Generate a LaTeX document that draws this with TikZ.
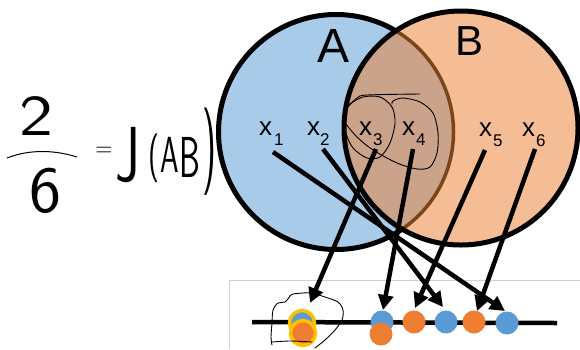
\documentclass[tikz,border=0pt]{standalone}
\usepackage{fontspec}
\setmainfont{Liberation Sans}
\usetikzlibrary{arrows.meta}
\definecolor{setA}{HTML}{A9CBEA}
\definecolor{setB}{HTML}{F5BD96}
\definecolor{setAB}{HTML}{CBA28A}
\definecolor{abline}{HTML}{7B4519}
\definecolor{dotblue}{HTML}{5B9BD5}
\definecolor{dotorange}{HTML}{ED7D31}
\definecolor{dotyellow}{HTML}{FFC000}
\definecolor{framegray}{HTML}{D0D0D0}
\newcommand\xsubl[2]{x\hspace{#2}\raisebox{-10pt}{\fontsize{17}{17}\selectfont #1}}
\begin{document}
\begin{tikzpicture}[x=1pt,y=-1pt,
  setborder/.style={line width=5pt},
  arr/.style={line width=4.5pt, -{Triangle[length=15pt,width=15pt]}},
  bdot/.style={circle, fill=dotblue, minimum size=23pt, inner sep=0pt},
  odot/.style={circle, fill=dotorange, minimum size=23pt, inner sep=0pt},
  ring/.style={draw=dotyellow, line width=3.5pt, minimum size=25pt},
  hand/.style={line width=0.9pt, line cap=round, line join=round},
  xlab/.style={anchor=base west, inner sep=0pt, font=\fontsize{26}{26}\selectfont},
  handtxt/.style={inner sep=0pt}
]
\useasboundingbox (0,0) rectangle (580,349);
% frame
\draw[framegray, line width=1pt] (229,349) -- (229,280) -- (580,280);
% sets
\coordinate (cA) at (336,132);
\coordinate (cB) at (461,128);
\filldraw[fill=setA, draw=black, setborder] (cA) circle (117.5);
\fill[setB] (cB) circle (117);
\begin{scope}
  \clip (cA) circle (117.5);
  \fill[setAB] (cB) circle (117);
\end{scope}
\begin{scope}
  \clip (cB) circle (117);
  \draw[abline, line width=3.5pt] (cA) circle (117.5);
\end{scope}
\draw[black, setborder] (cB) circle (117);
\node[anchor=base, inner sep=0pt, font=\fontsize{48}{48}\selectfont] (labA) at (334,62) {A};
\node[anchor=base, inner sep=0pt, font=\fontsize{42}{42}\selectfont] (labB) at (469,55) {B};
% element labels
\node[xlab] (x1) at (259,135) {\xsubl{1}{2pt}};
\node[xlab] (x2) at (307,135) {\xsubl{2}{0pt}};
\node[xlab] (x3) at (359,135) {\xsubl{3}{1pt}};
\node[xlab] (x4) at (402,135) {\xsubl{4}{1pt}};
\node[xlab] (x5) at (479,136) {\xsubl{5}{1pt}};
\node[xlab] (x6) at (522,136) {\xsubl{6}{1pt}};
\coordinate (s1) at (273,152);
\coordinate (s2) at (323,149);
\coordinate (s3) at (376,149);
\coordinate (s4) at (413,149);
\coordinate (s5) at (485,150);
\coordinate (s6) at (535,149);
% number line
\coordinate (nl) at (252,322);
\coordinate (nr) at (557,323);
\draw[line width=4.5pt] (nl) -- (nr);
% dots
\node[bdot, ring] (d3b) at (302,323) {};
\node[odot, ring] (d3o) at (303,333) {};
\node[bdot] (d4b) at (382,322) {};
\node[odot] (d4o) at (381,334) {};
\node[odot] (d5) at (414,322) {};
\node[bdot] (d2) at (446,322) {};
\node[odot] (d6) at (474,322) {};
\node[bdot] (d1) at (507,323) {};
\coordinate (t1) at (505,311);
\coordinate (t2) at (443,307);
\coordinate (t3) at (310,303);
\coordinate (t4) at (383,310);
\coordinate (t5) at (415,308);
\coordinate (t6) at (477,311);
% arrows
\draw[arr] (s1) -- (t1);
\draw[arr] (s2) -- (t2);
\draw[arr] (s3) -- (t3);
\draw[arr] (s4) -- (t4);
\draw[arr] (s5) -- (t5);
\draw[arr] (s6) -- (t6);
% handwritten loops
\draw[hand] plot[smooth] coordinates {(348,105) (363,97) (380,97) (392,107) (395,123) (390,143) (380,157) (367,158) (353,148) (346,133) (345,117) (349,104)};
\draw[hand] plot[smooth] coordinates {(345,123) (357,137) (373,150) (397,163) (417,169) (430,167) (437,153) (438,133) (433,113) (420,102) (403,98) (393,101) (392,104)};
\draw[hand] plot[smooth] coordinates {(348,107) (357,98) (367,95) (420,94)};
\draw[hand] plot[smooth] coordinates {(290,296) (293,294) (303,293) (312,293) (325,297) (338,302) (343,310) (342,320) (335,330) (325,340) (315,348)};
\draw[hand] plot[smooth] coordinates {(290,296) (285,302) (278,303) (273,310) (272,323) (271,337) (272,345)};
\draw[hand] plot[smooth] coordinates {(272,342) (290,341) (312,342)};
% handwritten formula
\node[handtxt, font=\sffamily\fontsize{40}{40}\selectfont, xscale=1.8, yscale=1.45] (two) at (36,116) {2};
\node[handtxt, font=\sffamily\fontsize{40}{40}\selectfont, xscale=1.7, yscale=1.65] (six) at (45,191) {6};
\coordinate (fl) at (7,158);
\coordinate (fr) at (77,157);
\draw[line width=1pt] (fl) .. controls (30,149) and (55,150) .. (fr);
\node[handtxt, font=\sffamily\fontsize{26}{26}\selectfont, xscale=0.9] (eq) at (104,152) {=};
\node[handtxt, font=\sffamily\fontsize{40}{40}\selectfont, xscale=1.4, yscale=1.95] (jj) at (128,155) {J};
\node[handtxt, font=\sffamily\fontsize{30}{30}\selectfont, yscale=1.63] (lp) at (154,158) {(};
\node[handtxt, font=\sffamily\fontsize{35}{35}\selectfont, xscale=0.85, yscale=1.45] (aa) at (170,155) {A};
\node[handtxt, font=\sffamily\fontsize{35}{35}\selectfont, xscale=0.95, yscale=1.65] (bb) at (190,157) {B};
\node[handtxt, font=\sffamily\fontsize{35}{35}\selectfont, xscale=1.1, yscale=2.5] (rp) at (210,152) {)};
\end{tikzpicture}
\end{document}
